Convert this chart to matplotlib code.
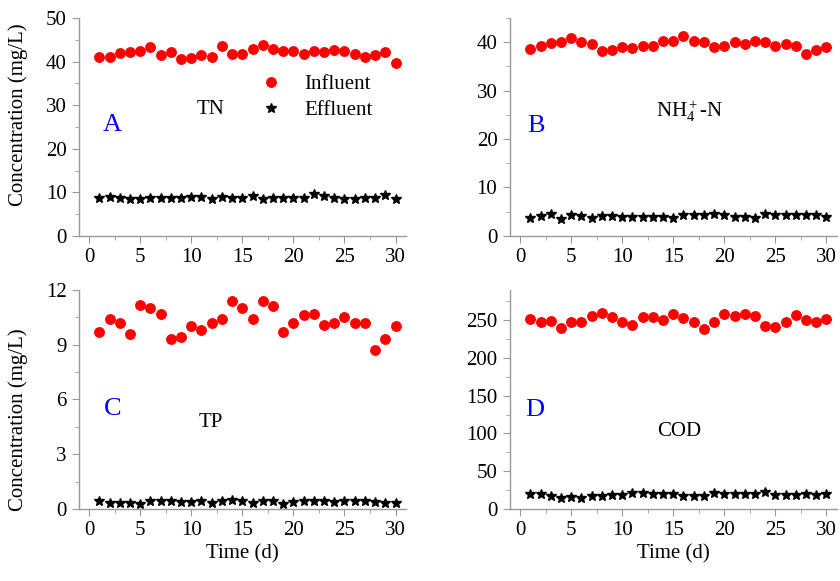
import numpy as np
import matplotlib
matplotlib.use("Agg")
import matplotlib.pyplot as plt
from matplotlib.ticker import MultipleLocator

plt.rcParams['font.family'] = ['Liberation Serif', 'DejaVu Serif']
plt.rcParams['mathtext.fontset'] = 'custom'
plt.rcParams['mathtext.rm'] = 'Liberation Serif'
plt.rcParams['mathtext.it'] = 'Liberation Serif:italic'

# Days of operation
days = np.arange(1, 31)

# TN (mg/L)
tn_in = [41.1, 41.0, 41.9, 42.3, 42.5, 43.3, 41.4, 42.1, 40.6, 40.8,
         41.4, 41.1, 43.6, 41.7, 41.7, 42.9, 43.8, 42.8, 42.5, 42.4,
         41.7, 42.4, 42.1, 42.7, 42.4, 41.7, 41.1, 41.6, 42.1, 39.7]
tn_out = [8.6, 9.0, 8.6, 8.4, 8.4, 8.6, 8.8, 8.8, 8.8, 9.0,
          9.0, 8.4, 9.0, 8.8, 8.6, 9.2, 8.4, 8.8, 8.8, 8.8,
          8.8, 9.6, 9.2, 8.8, 8.4, 8.4, 8.6, 8.8, 9.4, 8.4]

# NH4+-N (mg/L)
nh_in = [38.6, 39.3, 39.8, 40.0, 40.9, 40.0, 39.7, 38.2, 38.3, 39.0,
         38.8, 39.2, 39.3, 40.2, 40.3, 41.2, 40.3, 40.0, 39.0, 39.2,
         40.0, 39.7, 40.2, 40.0, 39.3, 39.7, 39.2, 37.6, 38.3, 39.0]
nh_out = [3.6, 4.1, 4.6, 3.4, 4.3, 4.1, 3.6, 4.1, 4.1, 3.9,
          3.9, 3.9, 3.9, 3.8, 3.6, 4.3, 4.3, 4.3, 4.5, 4.3,
          3.9, 3.9, 3.6, 4.6, 4.3, 4.3, 4.3, 4.3, 4.3, 3.9]

# TP (mg/L)
tp_in = [9.7, 10.4, 10.2, 9.6, 11.2, 11.0, 10.7, 9.3, 9.4, 10.0,
         9.8, 10.2, 10.4, 11.4, 11.0, 10.4, 11.4, 11.1, 9.7, 10.2,
         10.6, 10.7, 10.1, 10.2, 10.5, 10.2, 10.2, 8.7, 9.3, 10.0]
tp_out = [0.41, 0.31, 0.35, 0.35, 0.28, 0.41, 0.41, 0.41, 0.37, 0.37,
          0.41, 0.31, 0.41, 0.50, 0.41, 0.31, 0.46, 0.41, 0.28, 0.37,
          0.46, 0.42, 0.41, 0.37, 0.41, 0.41, 0.42, 0.37, 0.33, 0.33]

# COD (mg/L)
cod_in = [252, 248, 249, 240, 247, 248, 256, 259, 254, 247,
          244, 254, 254, 250, 258, 253, 247, 238, 248, 258,
          256, 258, 256, 242, 241, 247, 257, 250, 247, 252]
cod_out = [20.3, 20.3, 17.7, 14.6, 15.9, 14.6, 16.8, 17.7, 18.6, 18.6,
           21.3, 21.3, 20.3, 20.3, 20.3, 16.8, 16.8, 16.8, 21.3, 20.3,
           19.4, 19.4, 19.4, 22.6, 18.6, 18.6, 18.6, 19.4, 18.6, 19.4]

fig = plt.figure(figsize=(8.4, 5.81), dpi=100)

# [left, bottom, width, height] in figure fraction
axA = fig.add_axes([0.094, 0.594, 0.389, 0.375])
axB = fig.add_axes([0.607, 0.594, 0.389, 0.375])
axC = fig.add_axes([0.094, 0.124, 0.389, 0.377])
axD = fig.add_axes([0.607, 0.124, 0.389, 0.377])

panels = [
    (axA, tn_in, tn_out, 50, 10, 5, "A", (2.3, 25.5), "TN", (11.9, 28.9)),
    (axB, nh_in, nh_out, 45, 10, 5, "B", (1.6, 22.6), r"NH$_4^+$-N", (16.6, 25.7)),
    (axC, tp_in, tp_out, 12, 3, 1.5, "C", (2.3, 5.5), "TP", (11.9, 4.75)),
    (axD, cod_in, cod_out, 290, 50, 25, "D", (1.4, 131), "COD", (15.6, 102)),
]

for ax, yin, yout, ytop, major, minor, letter, lpos, name, npos in panels:
    ax.plot(days, yin, 'o', color='#ff0000', ms=6.8, mec='#ff0000', label="Influent")
    ax.plot(days, yout, '*', color='black', ms=7.5, label="Effluent")
    ax.set_xlim(-1, 31)
    ax.set_ylim(0, ytop)
    ax.xaxis.set_major_locator(MultipleLocator(5))
    ax.xaxis.set_minor_locator(MultipleLocator(2.5))
    ax.yaxis.set_major_locator(MultipleLocator(major))
    ax.yaxis.set_minor_locator(MultipleLocator(minor))
    for s in ['top', 'right']:
        ax.spines[s].set_visible(False)
    for s in ['left', 'bottom']:
        ax.spines[s].set_color('#999999')
        ax.spines[s].set_linewidth(1.0)
    ax.tick_params(which='major', direction='out', length=5, color='#999999',
                   labelsize=15, pad=4)
    ax.tick_params(which='minor', direction='out', length=3, color='#999999')
    ax.text(lpos[0], lpos[1], letter, color='#0000ff', fontsize=19,
            ha='center', va='center')
    ax.text(npos[0], npos[1], name, color='black', fontsize=15,
            ha='center', va='center')

axA.legend(loc='center left', bbox_to_anchor=(0.53, 0.635), frameon=False,
           fontsize=15, handlelength=1.0, handletextpad=1.1, labelspacing=0.32,
           borderaxespad=0, numpoints=1)

axC.set_xlabel("Time (d)", fontsize=15, labelpad=3)
axD.set_xlabel("Time (d)", fontsize=15, labelpad=3)

fig.text(18 / 840, 1 - 115 / 581, "Concentration (mg/L)", rotation=90,
         ha='center', va='center', fontsize=15)
fig.text(18 / 840, 1 - 420 / 581, "Concentration (mg/L)", rotation=90,
         ha='center', va='center', fontsize=15)

fig.savefig("out.png", dpi=100)
